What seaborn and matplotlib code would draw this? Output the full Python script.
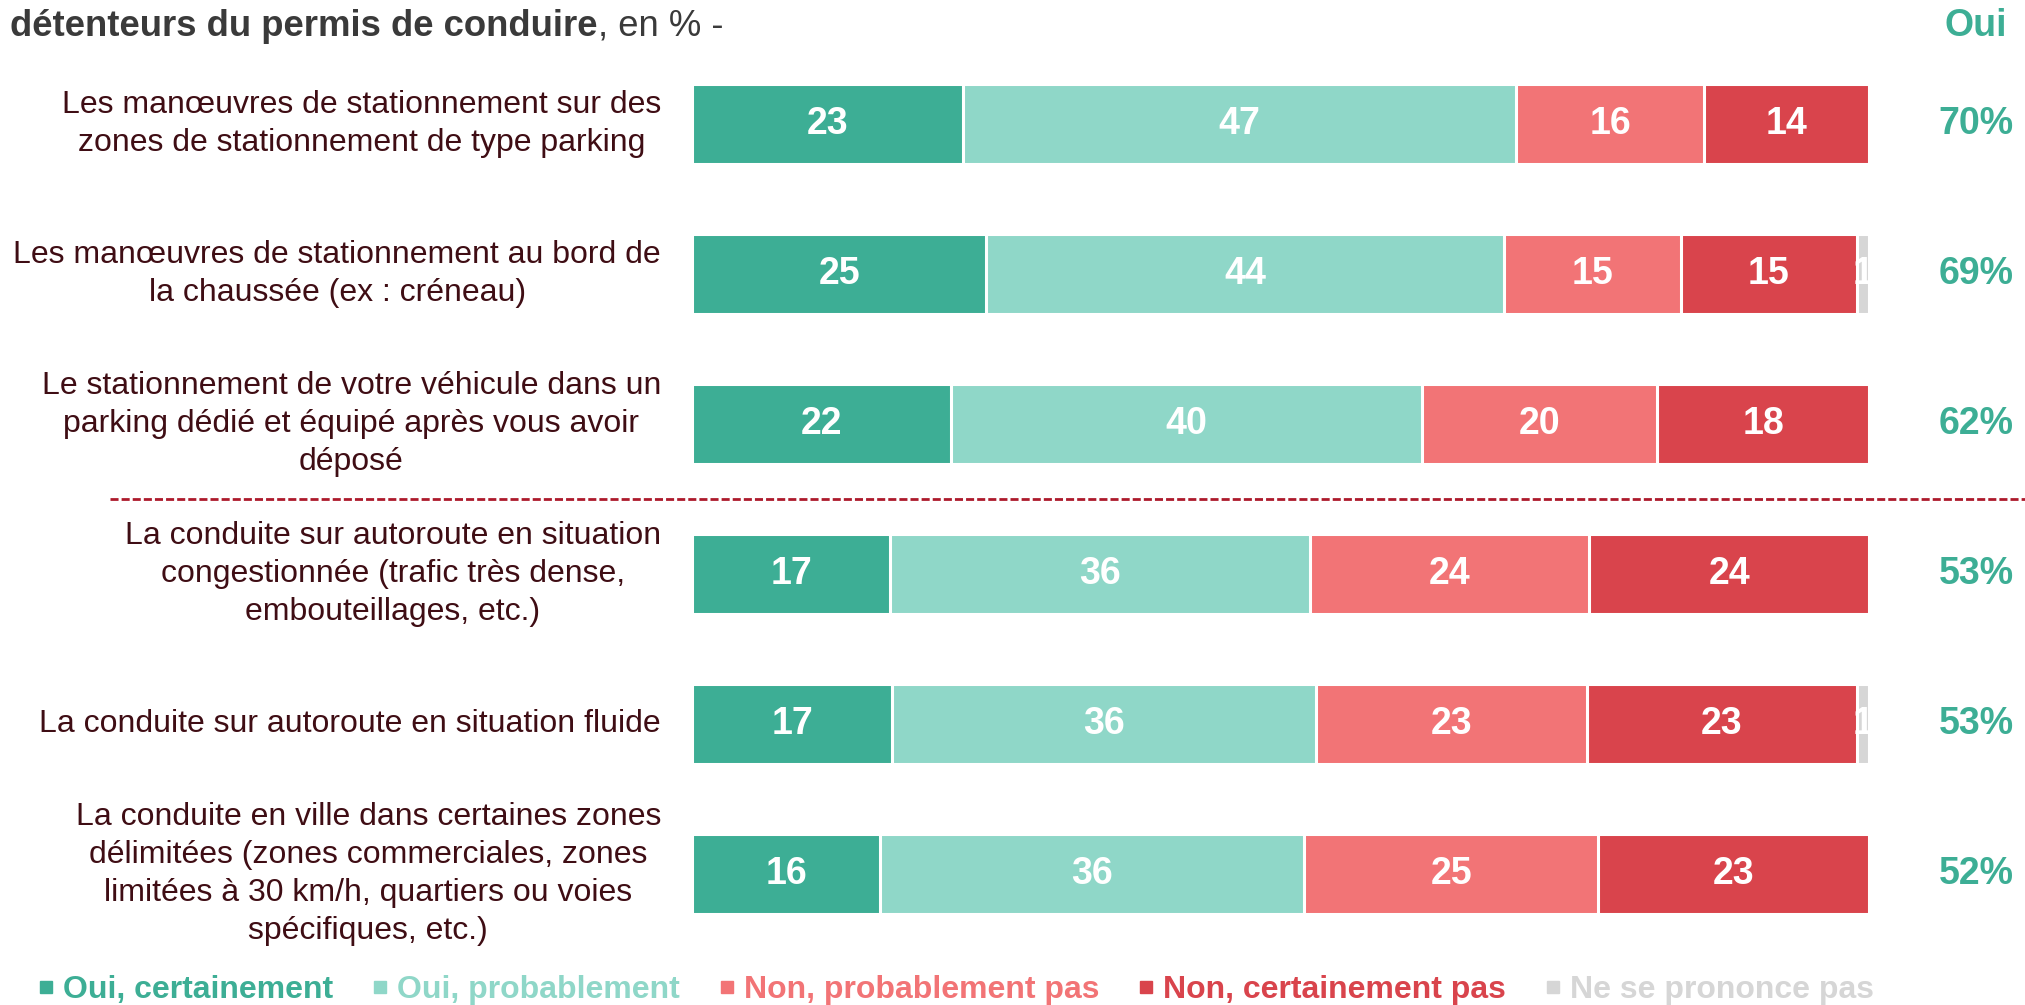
import numpy as np
import pandas as pd
import matplotlib
matplotlib.use("Agg")
import matplotlib.pyplot as plt
from matplotlib.lines import Line2D
import matplotlib.transforms as mtransforms
import seaborn as sns

categories = [
    "Les manœuvres de stationnement sur des\nzones de stationnement de type parking",
    "Les manœuvres de stationnement au bord de\nla chaussée (ex : créneau)",
    "Le stationnement de votre véhicule dans un\nparking dédié et équipé après vous avoir\ndéposé",
    "La conduite sur autoroute en situation\ncongestionnée (trafic très dense,\nembouteillages, etc.)",
    "La conduite sur autoroute en situation fluide",
    "La conduite en ville dans certaines zones\ndélimitées (zones commerciales, zones\nlimitées à 30 km/h, quartiers ou voies\nspécifiques, etc.)",
]
series_names = ["Oui, certainement", "Oui, probablement", "Non, probablement pas",
                "Non, certainement pas", "Ne se prononce pas"]
oui_certainement = [23, 25, 22, 17, 17, 16]
oui_probablement = [47, 44, 40, 36, 36, 36]
non_probablement = [16, 15, 20, 24, 23, 25]
non_certainement = [14, 15, 18, 24, 23, 23]
nsp = [0, 1, 0, 0, 1, 0]
oui_total = [70, 69, 62, 53, 53, 52]

colors = ["#3dae95", "#8fd7c8", "#f27476", "#d9444c", "#d6d6d6"]
label_color = "#3f0d14"

sns.set_theme(style="white")
plt.rcParams["font.family"] = ["Liberation Sans", "DejaVu Sans"]

vals = np.array([oui_certainement, oui_probablement, non_probablement,
                 non_certainement, nsp], dtype=float).T
totals = vals.sum(axis=1, keepdims=True)
pct = vals / totals * 100.0
cum = np.cumsum(pct, axis=1)
ids = [f"r{i}" for i in range(len(categories))]

W, H = 2025, 1005
fig = plt.figure(figsize=(W / 100, H / 100), dpi=100)
ax_left, ax_right = 692, 1869
ax_top, ax_bot = 49, 949
ax = fig.add_axes([ax_left / W, 1 - ax_bot / H, (ax_right - ax_left) / W, (ax_bot - ax_top) / H])

for k in reversed(range(vals.shape[1])):
    df = pd.DataFrame({"cat": ids, "v": cum[:, k]})
    sns.barplot(data=df, x="v", y="cat", orient="h", color=colors[k],
                saturation=1, width=0.53, edgecolor="white", linewidth=2.2, ax=ax)

ax.set_xlim(0, 100)
ax.set_ylim(len(categories) - 0.5, -0.5)
ax.axis("off")

# segment labels
for i in range(len(categories)):
    left = 0.0
    for k in range(vals.shape[1]):
        w = pct[i, k]
        if vals[i, k] > 0:
            ax.text(left + w / 2, i, f"{vals[i, k]:.0f}", ha="center", va="center",
                    color="white", fontsize=27, fontweight="bold")
        left += w

# category labels
tr = mtransforms.blended_transform_factory(fig.transFigure, ax.transData)
for i, c in enumerate(categories):
    fig.text(661 / W, i, c, transform=tr, ha="right", va="center",
             multialignment="center", fontsize=23, color=label_color, linespacing=1.36)
    fig.text(1976 / W, i, f"{oui_total[i]}%", transform=tr, ha="center", va="center",
             fontsize=27, fontweight="bold", color=colors[0])

# Oui header
fig.text(1976 / W, 1 - 26 / H, "Oui", ha="center", va="center", fontsize=27,
         fontweight="bold", color=colors[0])

# title
t1 = fig.text(10 / W, 1 - 26 / H, "détenteurs du permis de conduire", ha="left", va="center",
              fontsize=26.3, fontweight="bold", color="#3a3a3a")
ax.annotate(", en % -", xy=(1, 0.5), xycoords=t1, ha="left", va="center",
            fontsize=26.3, color="#3a3a3a", annotation_clip=False)

# dashed separator
fig.add_artist(Line2D([110 / W, 1.0], [2.5, 2.5], transform=tr, color="#ad1a2c",
                      linestyle=(0, (2.9, 1.1)), linewidth=2.0, clip_on=False))

# legend
handles = [Line2D([], [], marker="s", linestyle="none", markersize=8, color=c) for c in colors]
leg = fig.legend(handles, series_names, loc="center left", bbox_to_anchor=(8 / W, 1 - 990 / H),
                 ncol=5, frameon=False, handlelength=0.6, handletextpad=0.22,
                 columnspacing=1.18, prop={"size": 23, "weight": "bold"})
for txt, c in zip(leg.get_texts(), colors):
    txt.set_color(c)

fig.savefig("out.png", dpi=100, facecolor="white")
